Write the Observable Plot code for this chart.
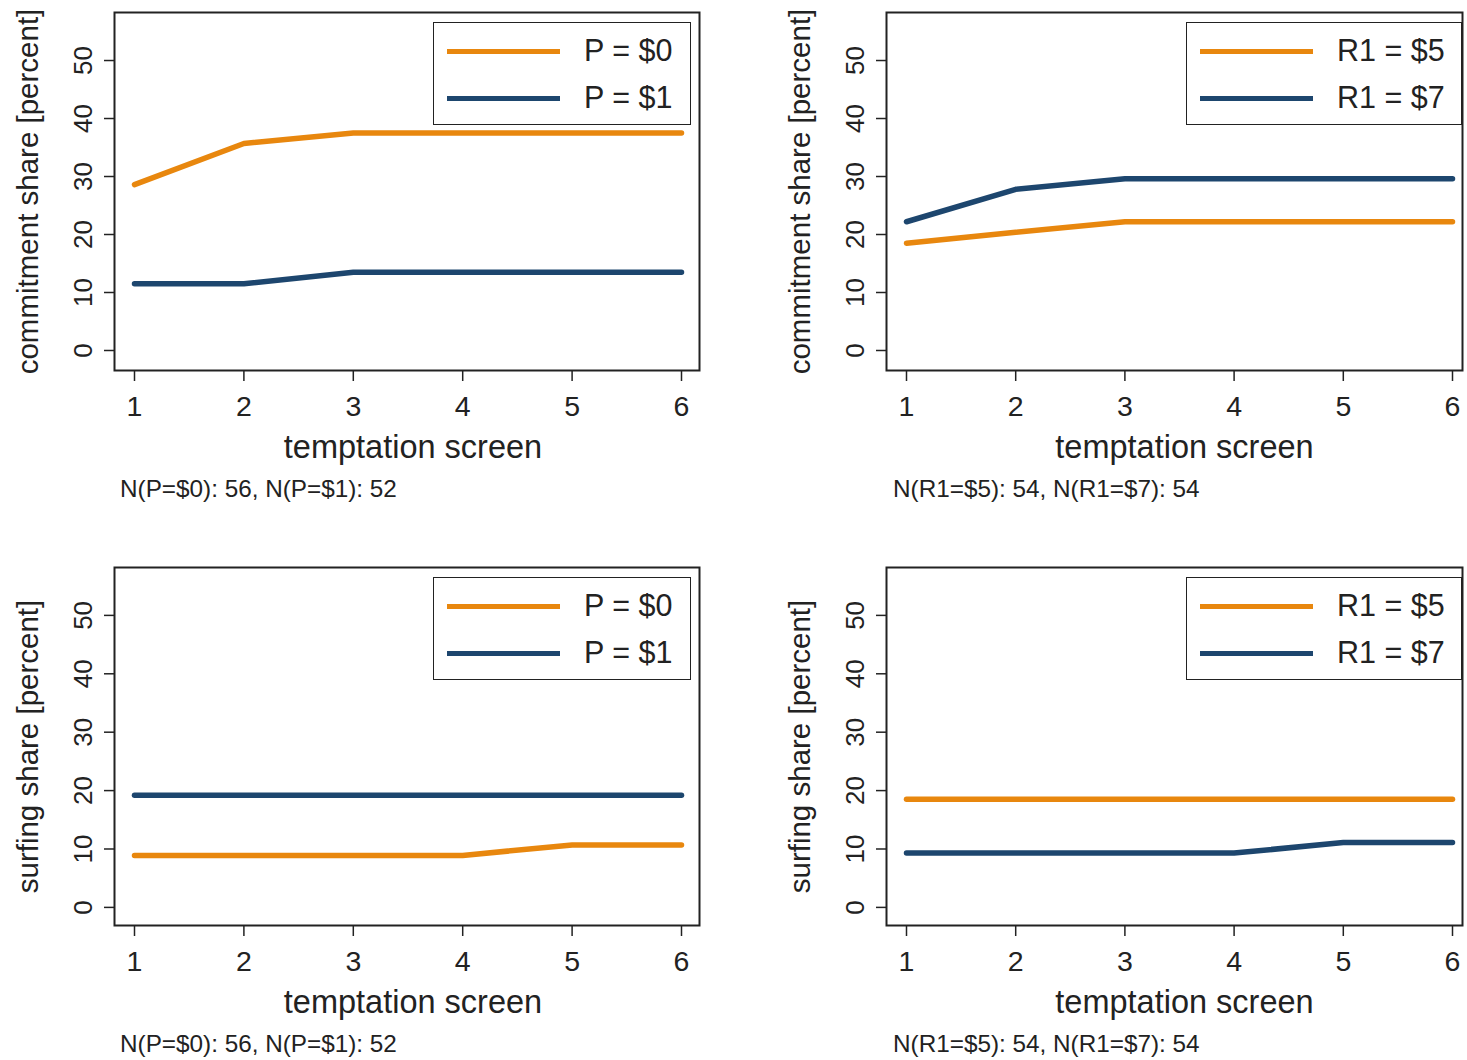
<!DOCTYPE html>
<html>
<head>
<meta charset="utf-8">
<script src="https://cdn.jsdelivr.net/npm/d3@7"></script>
<script src="https://cdn.jsdelivr.net/npm/@observablehq/plot@0.6"></script>
<style>
  html, body { margin: 0; padding: 0; background: #fff; }
  #root { position: relative; width: 1467px; height: 1060px; overflow: hidden; font-family: "Liberation Sans", Arial, sans-serif; color: #222; }
  .panel { position: absolute; }
  .note { position: absolute; font-size: 24.3px; color: #222; white-space: nowrap; line-height: 1; }
  .legend { position: absolute; border: 1.8px solid #222; background: #fff; box-sizing: border-box; }
  .legend .row { position: absolute; left: 0; right: 0; height: 40px; }
  .legend .sw { position: absolute; left: 13px; width: 113px; height: 5px; top: 18px; }
  .legend .lab { position: absolute; font-size: 30.5px; line-height: 1; top: 4px; white-space: nowrap; }
</style>
</head>
<body>
<div id="root"></div>
<script>
// ---- data ----
const screens = [1, 2, 3, 4, 5, 6];
const yTicks = [0, 10, 20, 30, 40, 50];
const pLabels = ["P = $0", "P = $1"];
const rLabels = ["R1 = $5", "R1 = $7"];
const commitP0 = [28.6, 35.7, 37.5, 37.5, 37.5, 37.5];
const commitP1 = [11.5, 11.5, 13.5, 13.5, 13.5, 13.5];
const commitR5 = [18.5, 20.4, 22.2, 22.2, 22.2, 22.2];
const commitR7 = [22.2, 27.8, 29.6, 29.6, 29.6, 29.6];
const surfP0 = [8.9, 8.9, 8.9, 8.9, 10.7, 10.7];
const surfP1 = [19.2, 19.2, 19.2, 19.2, 19.2, 19.2];
const surfR5 = [18.5, 18.5, 18.5, 18.5, 18.5, 18.5];
const surfR7 = [9.3, 9.3, 9.3, 9.3, 11.1, 11.1];
const notesP = "N(P=$0): 56, N(P=$1): 52";
const notesR = "N(R1=$5): 54, N(R1=$7): 54";
const colors = ["#e8870e", "#1d466e"];

function rows(labels, a, b) {
  return [
    ...screens.map((s, i) => ({screen: s, value: a[i], group: labels[0]})),
    ...screens.map((s, i) => ({screen: s, value: b[i], group: labels[1]}))
  ];
}

const root = document.getElementById("root");

function panel({left, top, width, frameRight, xDomain, yDomain, yLabel, labels, data, note, legendLeft, legendWidth, titleDx}) {
  const height = 470;
  const div = document.createElement("div");
  div.className = "panel";
  div.style.left = left + "px";
  div.style.top = top + "px";
  const chart = Plot.plot({
    width, height,
    marginLeft: 114, marginTop: 12, marginBottom: 100, marginRight: width - (frameRight - left),
    style: {fontFamily: '"Liberation Sans", Arial, sans-serif', color: "#222", background: "transparent", overflow: "visible"},
    x: {domain: xDomain},
    y: {domain: yDomain},
    color: {domain: labels, range: colors},
    marks: [
      Plot.axisY({ticks: yTicks, tickFormat: "d", tickSize: 10, tickRotate: -90, tickPadding: 13, fontSize: 26, label: null, stroke: "#222", strokeWidth: 1.5}),
      Plot.axisX({ticks: screens, tickFormat: "d", tickSize: 11, tickPadding: 14, fontSize: 28.5, label: null, stroke: "#222", strokeWidth: 1.5}),
      Plot.text([yLabel], {frameAnchor: "left", rotate: -90, textAnchor: "middle", lineAnchor: "bottom", dx: -77, fontSize: 29.5, fill: "#222"}),
      Plot.text(["temptation screen"], {frameAnchor: "bottom", textAnchor: "middle", lineAnchor: "top", dy: 64, dx: titleDx, fontSize: 32.5, fill: "#222"}),
      Plot.line(data, {x: "screen", y: "value", stroke: "group", strokeWidth: 5.5}),
      Plot.frame({stroke: "#222", strokeWidth: 2})
    ]
  });
  div.appendChild(chart);
  root.appendChild(div);

  // legend (inside plot area, top-right)
  const lg = document.createElement("div");
  lg.className = "legend";
  lg.style.left = legendLeft + "px";
  lg.style.top = (top + 22) + "px";
  lg.style.width = legendWidth + "px";
  lg.style.height = "103px";
  labels.forEach((lab, i) => {
    const r = document.createElement("div");
    r.className = "row";
    r.style.top = (8 + i * 47) + "px";
    const sw = document.createElement("div");
    sw.className = "sw";
    sw.style.background = colors[i];
    const t = document.createElement("div");
    t.className = "lab";
    t.style.left = "150px";
    t.textContent = lab;
    r.appendChild(sw); r.appendChild(t);
    lg.appendChild(r);
  });
  root.appendChild(lg);

  const n = document.createElement("div");
  n.className = "note";
  n.style.left = (left + (left === 0 ? 120 : 121)) + "px";
  n.style.top = (top + 477) + "px";
  n.textContent = note;
  root.appendChild(n);
}

const xL = [1 - 20 / 109.4, 6 + 18 / 109.4];
const xR = [1 - 20 / 109.2, 6 + 10 / 109.2];
const yTop = [-3.45, 58.28];
const yBot = [-3.1, 58.2];

panel({left: 0, top: 0, width: 740, frameRight: 699, xDomain: xL, yDomain: yTop, yLabel: "commitment share [percent]", labels: pLabels, data: rows(pLabels, commitP0, commitP1), note: notesP, legendLeft: 433, legendWidth: 258, titleDx: 6});
panel({left: 772, top: 0, width: 695, frameRight: 1462, xDomain: xR, yDomain: yTop, yLabel: "commitment share [percent]", labels: rLabels, data: rows(rLabels, commitR5, commitR7), note: notesR, legendLeft: 1186, legendWidth: 276, titleDx: 10});
panel({left: 0, top: 555, width: 740, frameRight: 699, xDomain: xL, yDomain: yBot, yLabel: "surfing share [percent]", labels: pLabels, data: rows(pLabels, surfP0, surfP1), note: notesP, legendLeft: 433, legendWidth: 258, titleDx: 6});
panel({left: 772, top: 555, width: 695, frameRight: 1462, xDomain: xR, yDomain: yBot, yLabel: "surfing share [percent]", labels: rLabels, data: rows(rLabels, surfR5, surfR7), note: notesR, legendLeft: 1186, legendWidth: 276, titleDx: 10});
</script>
</body>
</html>
